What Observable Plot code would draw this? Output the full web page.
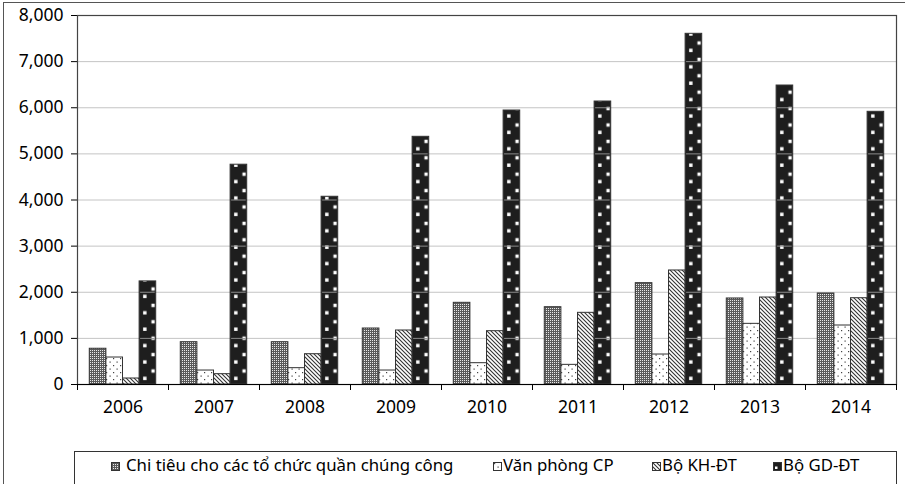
<!DOCTYPE html>
<html><head><meta charset="utf-8">
<script src="https://cdn.jsdelivr.net/npm/d3@7"></script>
<script src="https://cdn.jsdelivr.net/npm/@observablehq/plot@0.6"></script>
<style>
body{margin:0;background:#fff;}
#wrap{position:relative;width:905px;height:484px;overflow:hidden;font-family:"Noto Sans",sans-serif;}
#outer{position:absolute;left:3px;top:2px;width:930px;height:520px;border:1.5px solid #555;box-sizing:border-box;}
#chart{position:absolute;left:0;top:0;}
#legend{position:absolute;left:74px;top:451px;width:823px;height:60px;border:1px solid #333;box-sizing:border-box;background:#fff;}
.sw{position:absolute;top:10px;width:9px;height:9px;}
.lt{position:absolute;top:3px;font-size:16.8px;line-height:20px;color:#000;white-space:nowrap;}
</style></head>
<body>
<div id="wrap">
  <div id="outer"></div>
  <div id="chart"></div>
  <div id="legend"></div>
</div>
<script>
const years = [2006, 2007, 2008, 2009, 2010, 2011, 2012, 2013, 2014];
const seriesNames = ["Chi tiêu cho các tổ chức quần chúng công", "Văn phòng CP", "Bộ KH-ĐT", "Bộ GD-ĐT"];
const chiTieu  = [775, 917, 917, 1214, 1771, 1676, 2197, 1865, 1973];
const vanPhong = [585, 303, 354, 303, 462, 426, 650, 1315, 1279];
const boKHDT   = [130, 224, 657, 1171, 1156, 1554, 2472, 1886, 1871];
const boGDDT   = [2235, 4765, 4070, 5370, 5940, 6135, 7603, 6482, 5912];
const yTicks = [0, 1000, 2000, 3000, 4000, 5000, 6000, 7000, 8000];

const seriesValues = [chiTieu, vanPhong, boKHDT, boGDDT];
const data = years.flatMap((y, i) => seriesValues.map((vals, j) => ({year: y, series: seriesNames[j], j, value: vals[i]})));

const W = 905, H = 440, ML = 77, MR = 9, MT = 15, MB = 56;
const bw = (W - ML - MR) / years.length;
const off = 0.135, bwFrac = 0.1825;
const insL = j => bw * off + bw * bwFrac * j;
const insR = j => bw - bw * off - bw * bwFrac * (j + 1);

const gdOverlay = years.flatMap((y, i) => yTicks.filter(t => t > 0 && t < boGDDT[i]).map(t => ({year: y, v: t})));

const barMarks = seriesNames.map((s, j) => Plot.barY(data.filter(d => d.j === j), {
  x: "year", y: "value", fill: `url(#pat${j})`, stroke: "#333", strokeWidth: 1,
  insetLeft: insL(j), insetRight: insR(j)
}));

const plot = Plot.plot({
  width: W, height: H,
  marginLeft: ML, marginRight: MR, marginTop: MT, marginBottom: MB,
  style: {fontFamily: "'Noto Sans', sans-serif", fontSize: "17.5px", color: "#000", background: "transparent"},
  x: {domain: years, padding: 0, tickSize: 0, tickPadding: 16, label: null, tickFormat: d => String(d)},
  y: {domain: [0, 8000], ticks: yTicks, tickFormat: d3.format(","), tickSize: 6, tickPadding: 8, label: null, line: true},
  marks: [
    Plot.ruleY(yTicks.filter(t => t > 0 && t < 8000), {stroke: "#c4c4c4", strokeWidth: 1}),
    ...barMarks,
    Plot.tickY(gdOverlay, {x: "year", y: "v", stroke: "#8c8c8c", strokeWidth: 1, insetLeft: insL(3) + 1, insetRight: insR(3) + 1}),
    Plot.frame({stroke: "#444", strokeWidth: 1.2}),
    Plot.ruleX(years, {x: d => d, y1: 0, y2: 0, dx: -bw / 2, insetBottom: -6, stroke: "#000"}),
    Plot.ruleX([years[years.length - 1]], {x: d => d, y1: 0, y2: 0, dx: bw / 2, insetBottom: -6, stroke: "#000"}),
    Plot.ruleY([0], {stroke: "#000", strokeWidth: 1})
  ]
});

// patterns
const defs = d3.select(plot).insert("defs", ":first-child");
function addPatterns(defs, prefix, gdX, gdY) {
  const p0 = defs.append("pattern").attr("id", prefix + "0").attr("patternUnits", "userSpaceOnUse").attr("width", 2).attr("height", 2);
  p0.append("rect").attr("width", 2).attr("height", 2).attr("fill", "#5a5a5a");
  p0.append("rect").attr("width", 1).attr("height", 1).attr("fill", "#e8e8e8");
  const p1 = defs.append("pattern").attr("id", prefix + "1").attr("patternUnits", "userSpaceOnUse").attr("width", 7).attr("height", 7);
  p1.append("rect").attr("width", 7).attr("height", 7).attr("fill", "#fff");
  p1.append("rect").attr("x", 1).attr("y", 1).attr("width", 1.2).attr("height", 1.2).attr("fill", "#444");
  p1.append("rect").attr("x", 4.5).attr("y", 4.5).attr("width", 1.2).attr("height", 1.2).attr("fill", "#444");
  const p2 = defs.append("pattern").attr("id", prefix + "2").attr("patternUnits", "userSpaceOnUse").attr("width", 4).attr("height", 4);
  p2.append("rect").attr("width", 4).attr("height", 4).attr("fill", "#fff");
  p2.append("path").attr("d", "M-1,-1L5,5M-1,3L1,5M3,-1L5,1").attr("stroke", "#333").attr("stroke-width", 1.1);
  const th = 16.4, tw = bw / 5;
  const p3 = defs.append("pattern").attr("id", prefix + "3").attr("patternUnits", "userSpaceOnUse")
    .attr("x", gdX).attr("y", gdY).attr("width", tw).attr("height", th);
  p3.append("rect").attr("width", tw).attr("height", th).attr("fill", "#1e1e1e");
  p3.append("rect").attr("x", 4).attr("y", 9.1).attr("width", 3.4).attr("height", 3.4).attr("fill", "#fff");
  p3.append("rect").attr("x", 12.3).attr("y", 1.7).attr("width", 3.4).attr("height", 3.4).attr("fill", "#fff");
}
addPatterns(defs, "pat", ML + insL(3), H - MB);
document.getElementById("chart").appendChild(plot);

// legend
const legend = d3.select("#legend");
const swX = [36, 418, 577, 698];
const txX = [51, 428, 587, 708];
seriesNames.forEach((s, j) => {
  const sw = legend.append("svg").attr("class", "sw").style("left", swX[j] + "px").attr("width", 9).attr("height", 9);
  if (j < 3) {
    sw.append("rect").attr("x", 0.5).attr("y", 0.5).attr("width", 8).attr("height", 8).attr("fill", `url(#pat${j})`).attr("stroke", "#333");
  } else {
    sw.append("rect").attr("x", 0.5).attr("y", 0.5).attr("width", 8).attr("height", 8).attr("fill", "#1e1e1e").attr("stroke", "#333");
    sw.append("rect").attr("x", 2).attr("y", 4.5).attr("width", 2.5).attr("height", 2.5).attr("fill", "#fff");
  }
  legend.append("div").attr("class", "lt").style("left", txX[j] + "px").text(s);
});
</script>
</body></html>
